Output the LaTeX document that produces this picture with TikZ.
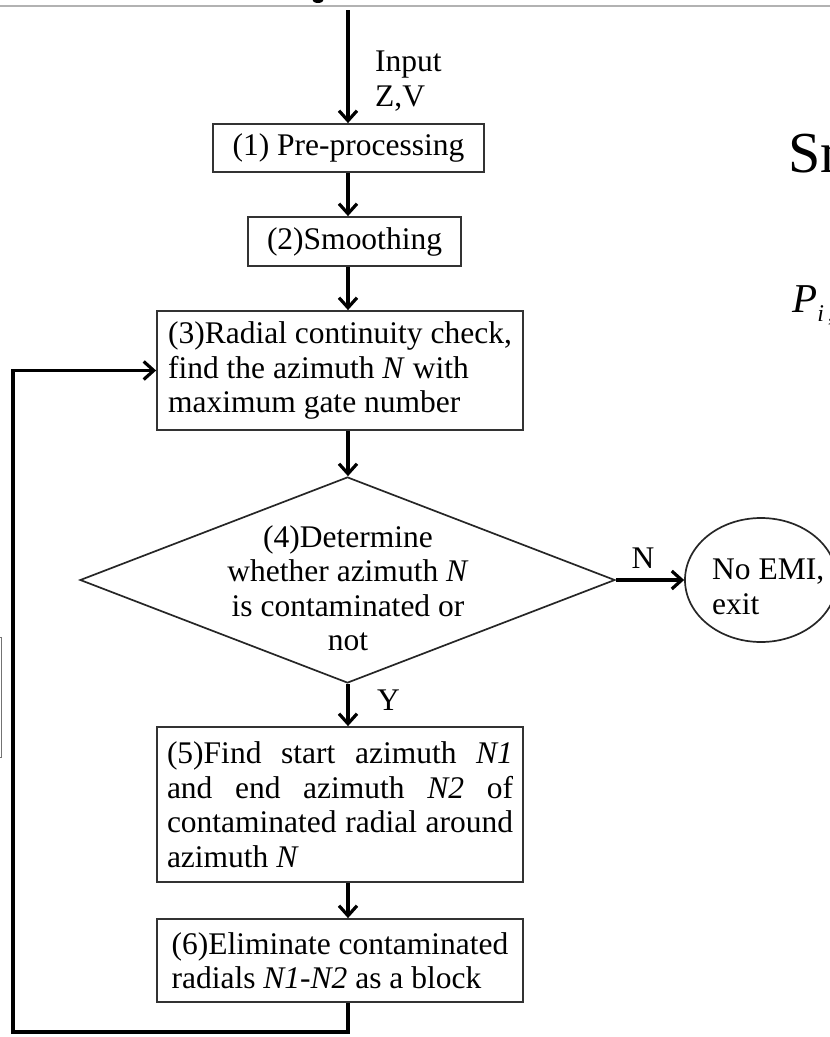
\documentclass[tikz,border=0pt]{standalone}
\usepackage{fontspec}
\setmainfont{Liberation Serif}
\usetikzlibrary{arrows.meta,shapes.geometric}

\begin{document}
\begin{tikzpicture}[x=1pt,y=-1pt,
  every node/.style={font=\fontsize{31.5}{34.5}\selectfont},
  procbox/.style={draw=black!80,line width=1.8pt,inner sep=0pt,align=left},
  outline/.style={draw=black!85,line width=1.7pt,inner sep=0pt},
  txt/.style={inner sep=0pt},
  flow/.style={line width=3.4pt,line join=miter,
    -{Straight Barb[length=10pt,width=18pt,line width=3.2pt]}}]

\useasboundingbox (0,0) rectangle (830,1037);
\clip (0,0) rectangle (830,1037);

% page furniture around the chart
\draw[black!30,line width=1.3pt] (0,6) -- (830,6);
\fill[black] (318,-1) ellipse [x radius=6, y radius=4];
\draw[black!55,line width=1pt] (-20,637) rectangle (1.5,757);
\node[txt,anchor=base west,font=\fontsize{58}{58}\selectfont] (title) at (788,172) {Sm};
\node[txt,anchor=base west] (eq) at (792,312)
  {\fontsize{41}{41}\selectfont\textit{P}\raisebox{-9pt}{\fontsize{24}{24}\selectfont\textit{i}\,,\textit{j}}};

% vertical axis of the main flow
\coordinate (axis) at (348,0);
\coordinate (in) at (348,10);
\coordinate (fb) at (13,1032);

% steps
\node[procbox,minimum width=271,minimum height=48] (p1) at (348.5,148) {(1) Pre-processing};
\node[procbox,minimum width=213,minimum height=49] (p2) at (354.5,241.5) {(2)Smoothing};
\node[procbox,minimum width=366,minimum height=119] (p3) at (340,370.5)
  {(3)Radial continuity check,\\find the azimuth \textit{N} with\\maximum gate number};
\node[outline,shape=diamond,minimum width=535,minimum height=206] (d4) at (347.5,580) {};
\node[txt,align=center] (d4t) at (348,588)
  {(4)Determine\\whether azimuth \textit{N}\\is contaminated or\\not};
\node[outline,ellipse,minimum width=152,minimum height=124] (ex) at (761,580) {};
\node[txt,align=left,anchor=west] (ext) at (712,587) {No EMI,\\exit};
\node[procbox,minimum width=366,minimum height=155] (p5) at (340,804.5)
  {\makebox[346pt][s]{(5)Find start azimuth \textit{N1}}\\
   \makebox[346pt][s]{and end azimuth \textit{N2} of}\\
   \makebox[346pt][s]{contaminated radial around}\\
   azimuth \textit{N}};
\node[procbox,minimum width=366,minimum height=83] (p6) at (340,960.5)
  {(6)Eliminate contaminated\\radials \textit{N1-N2} as a block};

% labels
\node[txt,align=left,anchor=west] (inlbl) at (375,81) {Input\\Z,V};
\node[txt] (nlbl) at (643,558) {N};
\node[txt,anchor=west] (ylbl) at (377,700) {Y};

% connectors
\draw[flow] (in) -- (axis |- p1.north);
\draw[flow] (axis |- p1.south) -- (axis |- p2.north);
\draw[flow] (axis |- p2.south) -- (axis |- p3.north);
\draw[flow] (axis |- p3.south) -- (axis |- d4.north);
\draw[flow] (d4.east) -- (ex.west);
\draw[flow] (axis |- d4.south) -- (axis |- p5.north);
\draw[flow] (axis |- p5.south) -- (axis |- p6.north);
\draw[flow] (axis |- p6.south) -- (axis |- fb) -- (fb) -- (fb |- p3.west) -- (p3.west);
\end{tikzpicture}
\end{document}
